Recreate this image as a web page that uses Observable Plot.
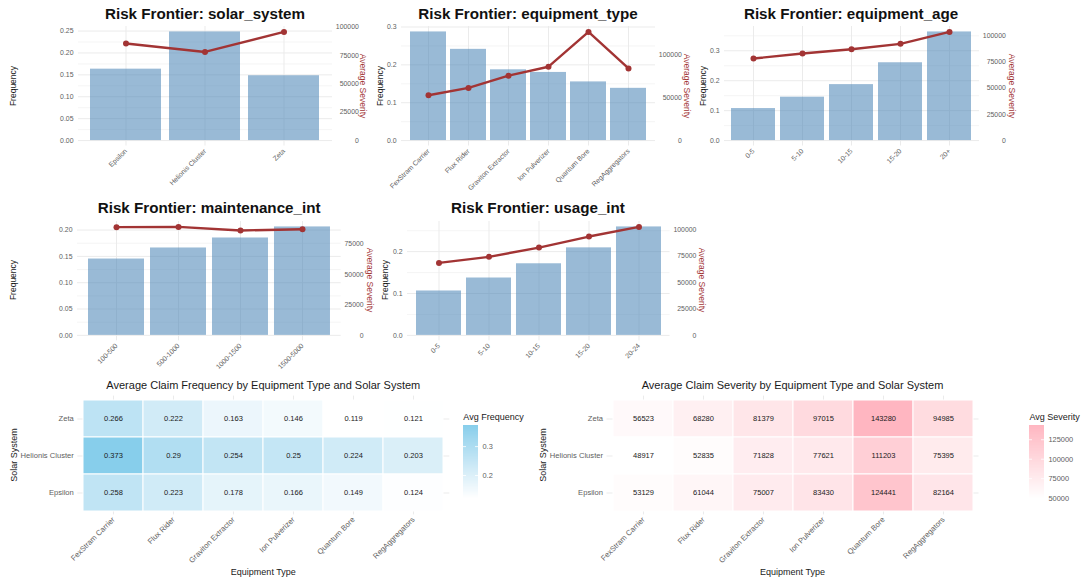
<!DOCTYPE html>
<html>
<head>
<meta charset="utf-8">
<script src="https://cdn.jsdelivr.net/npm/d3@7"></script>
<script src="https://cdn.jsdelivr.net/npm/@observablehq/plot@0.6"></script>
<style>
  body { margin: 0; background: #fff; }
  #root { position: relative; width: 1085px; height: 583px; overflow: hidden; background: #fff;
          font-family: "Liberation Sans", Arial, Helvetica, sans-serif; }
  .lbl { position: absolute; white-space: nowrap; line-height: 1; }
</style>
</head>
<body>
<div id="root"></div>
<script>
// ---------------- DATA ----------------
const solarSystems = ["Epsilon", "Helionis Cluster", "Zeta"];
const solarFreq = [0.163, 0.248, 0.148];
const solarSev = [85400, 78000, 95600];

const equipTypes = ["FexStram Carrier", "Flux Rider", "Graviton Extractor", "Ion Pulverizer", "Quantum Bore", "RegAggregators"];
const equipFreq = [0.287, 0.241, 0.187, 0.180, 0.155, 0.138];
const equipSev = [53000, 61600, 75900, 86400, 127100, 84400];

const ageBands = ["0-5", "5-10", "10-15", "15-20", "20+"];
const ageFreq = [0.107, 0.145, 0.187, 0.260, 0.363];
const ageSev = [78400, 83200, 87300, 92400, 103800];

const maintBands = ["100-500", "500-1000", "1000-1500", "1500-5000"];
const maintFreq = [0.145, 0.166, 0.185, 0.206];
const maintSev = [88600, 88800, 85900, 86900];

const usageBands = ["0-5", "5-10", "10-15", "15-20", "20-24"];
const usageFreq = [0.106, 0.137, 0.171, 0.209, 0.259];
const usageSev = [68500, 74200, 83000, 93400, 102500];

// heatmap rows (top to bottom)
const heatSystems = ["Zeta", "Helionis Cluster", "Epsilon"];
const heatFreqZeta = [0.266, 0.222, 0.163, 0.146, 0.119, 0.121];
const heatFreqHelionis = [0.373, 0.29, 0.254, 0.25, 0.224, 0.203];
const heatFreqEpsilon = [0.258, 0.223, 0.178, 0.166, 0.149, 0.124];
const heatSevZeta = [56523, 68280, 81379, 97015, 143280, 94985];
const heatSevHelionis = [48917, 52835, 71828, 77621, 111203, 75395];
const heatSevEpsilon = [53129, 61044, 75007, 83430, 124441, 82164];

// tick labels
const freqTicks005 = [0, 0.05, 0.10, 0.15, 0.20, 0.25];
const freqMinor005 = [0.025, 0.075, 0.125, 0.175, 0.225];
const freqTicks01 = [0, 0.1, 0.2, 0.3];
const freqMinor01 = [0.05, 0.15, 0.25, 0.35];
const sevTicks25k = [0, 25000, 50000, 75000, 100000];
const sevTicks50k = [0, 50000, 100000];
const freqLegendTicks = [0.2, 0.3];
const sevLegendTicks = [50000, 75000, 100000, 125000];

// ---------------- HELPERS ----------------
const FONT = '"Liberation Sans", Arial, Helvetica, sans-serif';
const root = document.getElementById("root");
const BAR = "steelblue";
const RED = "#a23434";
const GRID = "#ebebeb";
const TICK = "#5e5e5e";

function place(svg, left, top) {
  svg.style.position = "absolute";
  svg.style.left = left + "px";
  svg.style.top = top + "px";
  svg.style.background = "transparent";
  svg.style.overflow = "visible";
  svg.style.maxWidth = "none";
  svg.style.fontFamily = FONT;
  root.appendChild(svg);
}

function label(text, x, y, o = {}) {
  const d = document.createElement("div");
  d.className = "lbl";
  d.textContent = text;
  d.style.left = x + "px";
  d.style.top = y + "px";
  d.style.fontSize = (o.size || 9) + "px";
  d.style.fontWeight = o.weight || "normal";
  d.style.color = o.color || "#1a1a1a";
  const tx = o.anchor === "start" ? "0" : "-50%";
  d.style.transform = `translate(${tx}, -50%)` + (o.rotate ? ` rotate(${o.rotate}deg)` : "");
  d.style.transformOrigin = o.anchor === "start" ? "0 50%" : "50% 50%";
  root.appendChild(d);
}

function riskPanel(p) {
  const mL = 50, mR = 48, mT = 4, mB = 52;
  const width = p.pr - p.pl + mL + mR;
  const height = p.pb - p.pt + mT + mB;
  const rows = p.cats.map((c, i) => ({cat: c, freq: p.freq[i], sev: p.sev[i]}));
  const M = d3.max(p.freq), S = d3.max(p.sev);
  const xs = {type: "band", domain: p.cats, paddingInner: 0.1, paddingOuter: 0.15, axis: null};
  const base = {width, height, marginLeft: mL, marginRight: mR, marginTop: mT, marginBottom: mB};
  const fs = 6.9;

  const bars = Plot.plot({
    ...base,
    x: xs,
    y: {domain: [-0.05 * M, 1.05 * M], axis: null},
    marks: [
      Plot.gridY(p.minor.filter(v => v < 1.05 * M), {stroke: GRID, strokeOpacity: 1, strokeWidth: 0.5}),
      Plot.gridY(p.major, {stroke: GRID, strokeOpacity: 1, strokeWidth: 1}),
      Plot.gridX(p.cats, {stroke: GRID, strokeOpacity: 1, strokeWidth: 1}),
      Plot.barY(rows, {x: "cat", y: "freq", fill: BAR, fillOpacity: 0.55}),
      Plot.axisY(p.major, {tickSize: 0, tickPadding: 5, tickFormat: d3.format(p.fmt), fontSize: fs, color: TICK, label: null}),
      Plot.axisX(p.cats, {tickSize: 0, tickPadding: 4, tickRotate: -45, fontSize: fs, color: TICK, label: null})
    ]
  });
  place(bars, p.pl - mL, p.pt - mT);

  const maxDigits = d3.max(p.sevTicks, t => String(t).length);
  const line = Plot.plot({
    ...base,
    x: xs,
    y: {domain: [-0.05 * S, 1.05 * S], axis: null},
    marks: [
      Plot.line(rows, {x: "cat", y: "sev", stroke: RED, strokeWidth: 2.4}),
      Plot.dot(rows, {x: "cat", y: "sev", fill: RED, r: 3}),
      Plot.axisY(p.sevTicks, {anchor: "right", tickSize: 0, tickPadding: 3.3 + maxDigits * 0.556 * fs,
        textAnchor: "end", tickFormat: d3.format("d"), fontSize: fs, color: TICK, label: null})
    ]
  });
  place(line, p.pl - mL, p.pt - mT);

  label(p.title, (p.pl + p.pr) / 2, p.titleY, {size: 15.2, weight: "bold", color: "#111"});
  label("Frequency", p.freqLabX, (p.pt + p.pb) / 2, {size: 8.5, rotate: -90});
  label("Average Severity", p.sevLabX, (p.pt + p.pb) / 2, {size: 8.5, rotate: 90, color: RED});
}

function heatmap(h) {
  const data = [];
  heatSystems.forEach((s, j) => h.values[j].forEach((v, i) => data.push({sys: s, eq: equipTypes[i], v})));
  const width = 460, height = 203, top = 380;
  const fx1 = h.fx1, fx2 = h.fx2; // frame
  const fy1 = 395.6, fy2 = 514.4;
  const fs = 7.6;
  const plot = Plot.plot({
    width, height,
    marginLeft: fx1 - h.left, marginRight: h.left + width - fx2,
    marginTop: fy1 - top, marginBottom: top + height - fy2,
    x: {type: "band", domain: equipTypes, paddingInner: 0, paddingOuter: 0.1, axis: null},
    y: {type: "band", domain: heatSystems, paddingInner: 0, paddingOuter: 0.1, axis: null},
    color: {type: "linear", domain: d3.extent(data, d => d.v), range: ["white", h.high], interpolate: "lab"},
    marks: [
      Plot.gridX(equipTypes, {stroke: GRID, strokeOpacity: 1, strokeWidth: 1}),
      Plot.gridY(heatSystems, {stroke: GRID, strokeOpacity: 1, strokeWidth: 1}),
      Plot.cell(data, {x: "eq", y: "sys", fill: "v", stroke: "white", strokeWidth: 1}),
      Plot.text(data, {x: "eq", y: "sys", text: d => String(d.v), fontSize: 7.5, fill: "#1a1a1a"}),
      Plot.axisX(equipTypes, {tickRotate: -45, tickSize: 0, tickPadding: 3.5, fontSize: fs, color: TICK, label: null}),
      Plot.axisY(heatSystems, {tickSize: 0, tickPadding: 4, fontSize: fs, color: TICK, label: null})
    ]
  });
  place(plot, h.left, top);

  // colour bar legend
  const [lo, hi] = d3.extent(data, d => d.v);
  const n = 120;
  const bins = d3.range(n).map(i => ({v0: lo + (hi - lo) * i / n, v1: lo + (hi - lo) * (i + 1) / n}));
  const barH = 73.5, barW = 15;
  const legend = Plot.plot({
    width: barW + 50, height: barH + 10,
    marginLeft: 0, marginRight: 50, marginTop: 5, marginBottom: 5,
    x: {domain: [0, 1], axis: null},
    y: {domain: [lo, hi], axis: null},
    color: {type: "linear", domain: [lo, hi], range: ["white", h.high], interpolate: "lab"},
    marks: [
      Plot.rect(bins, {x1: 0, x2: 1, y1: "v0", y2: "v1", fill: d => (d.v0 + d.v1) / 2, shapeRendering: "crispEdges"}),
      Plot.ruleY(h.legendTicks, {x1: 0, x2: 0.2, stroke: "white", strokeWidth: 0.8}),
      Plot.ruleY(h.legendTicks, {x1: 0.8, x2: 1, stroke: "white", strokeWidth: 0.8}),
      Plot.axisY(h.legendTicks, {anchor: "right", tickSize: 0, tickPadding: 4, tickFormat: h.legendFmt,
        fontSize: 7.4, color: TICK, label: null})
    ]
  });
  place(legend, h.legendX, 420);

  const cx = (fx1 + fx2) / 2;
  label(h.title, cx, 385, {size: 11});
  label("Equipment Type", cx, 572, {size: 9});
  label("Solar System", h.yTitleX, (fy1 + fy2) / 2, {size: 9, rotate: -90});
  label(h.legendTitle, h.legendX, 417, {size: 9, anchor: "start"});
}

// ---------------- PANELS ----------------
riskPanel({title: "Risk Frontier: solar_system", cats: solarSystems, freq: solarFreq, sev: solarSev,
  pl: 78, pr: 332, pt: 26.2, pb: 145.7, titleY: 14, major: freqTicks005, minor: freqMinor005, fmt: ".2f",
  sevTicks: sevTicks25k, freqLabX: 13, sevLabX: 363});
riskPanel({title: "Risk Frontier: equipment_type", cats: equipTypes, freq: equipFreq, sev: equipSev,
  pl: 401, pr: 655, pt: 26.2, pb: 145.7, titleY: 14, major: freqTicks01, minor: freqMinor01, fmt: ".1f",
  sevTicks: sevTicks50k, freqLabX: 380, sevLabX: 687});
riskPanel({title: "Risk Frontier: equipment_age", cats: ageBands, freq: ageFreq, sev: ageSev,
  pl: 723.6, pr: 978.6, pt: 26.2, pb: 145.7, titleY: 14, major: freqTicks01, minor: freqMinor01, fmt: ".1f",
  sevTicks: sevTicks25k, freqLabX: 703, sevLabX: 1012});
riskPanel({title: "Risk Frontier: maintenance_int", cats: maintBands, freq: maintFreq, sev: maintSev,
  pl: 77.3, pr: 341, pt: 220.7, pb: 340, titleY: 208, major: freqTicks005.slice(0, 5), minor: freqMinor005, fmt: ".2f",
  sevTicks: sevTicks25k.slice(0, 4), freqLabX: 13, sevLabX: 370});
riskPanel({title: "Risk Frontier: usage_int", cats: usageBands, freq: usageFreq, sev: usageSev,
  pl: 406.7, pr: 669.3, pt: 220.7, pb: 340, titleY: 208, major: freqTicks01.slice(0, 3), minor: freqMinor01, fmt: ".1f",
  sevTicks: sevTicks25k, freqLabX: 385, sevLabX: 702});

heatmap({title: "Average Claim Frequency by Equipment Type and Solar System",
  values: [heatFreqZeta, heatFreqHelionis, heatFreqEpsilon], high: "skyblue",
  left: 0, fx1: 77.3, fx2: 449.3, yTitleX: 13.8,
  legendX: 463.3, legendTitle: "Avg Frequency", legendTicks: freqLegendTicks, legendFmt: d3.format(".1f")});
heatmap({title: "Average Claim Severity by Equipment Type and Solar System",
  values: [heatSevZeta, heatSevHelionis, heatSevEpsilon], high: "lightpink",
  left: 530, fx1: 606.5, fx2: 978.5, yTitleX: 543,
  legendX: 1029.4, legendTitle: "Avg Severity", legendTicks: sevLegendTicks, legendFmt: d3.format("d")});
</script>
</body>
</html>
